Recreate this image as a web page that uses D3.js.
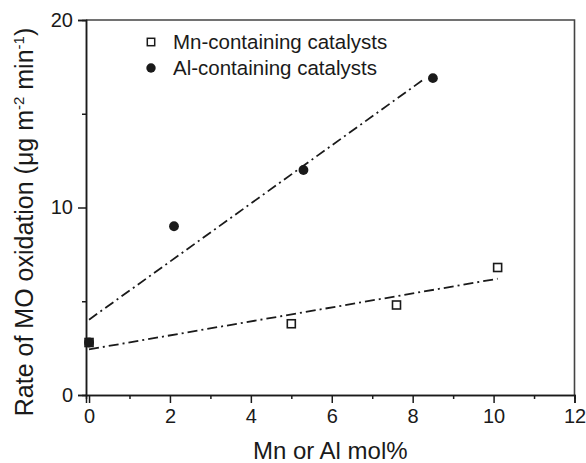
<!DOCTYPE html>
<html>
<head>
<meta charset="utf-8">
<script src="https://cdn.jsdelivr.net/npm/d3@7"></script>
<style>
  html, body { margin: 0; padding: 0; background: #fff; }
  svg { display: block; font-family: "Liberation Sans", Arial, sans-serif; }
</style>
</head>
<body>
<svg id="chart" width="586" height="463"></svg>
<script>
// Catalyst composition (mol%) and measured MO oxidation rate
const mnMol  = [0, 5.0, 7.6, 10.1];
const mnRate = [2.8, 3.8, 4.8, 6.8];
const alMol  = [0, 2.1, 5.3, 8.5];
const alRate = [2.8, 9.0, 12.0, 16.9];

// Extent of each linear fit along the x axis
const mnFitRange = [0, 10.1];
const alFitRange = [0, 8.3];

const xTicks = [0, 2, 4, 6, 8, 10, 12];
const xMinorTicks = [1, 3, 5, 7, 9, 11];
const yTicks = [0, 10, 20];
const yMinorTicks = [5, 15];

const legendLabels = ["Mn-containing catalysts", "Al-containing catalysts"];

const svg = d3.select("#chart");
const plotL = 86, plotR = 574.5, plotT = 20, plotB = 395;

const x = d3.scaleLinear().domain([-0.075, 12]).range([plotL, plotR]);
const y = d3.scaleLinear().domain([0, 20]).range([plotB, plotT]);

const ink = "#1a1a1a";

// least-squares line through a series
function fit(xs, ys) {
  const n = xs.length;
  const mx = d3.mean(xs), my = d3.mean(ys);
  let sxy = 0, sxx = 0;
  for (let i = 0; i < n; i++) {
    sxy += (xs[i] - mx) * (ys[i] - my);
    sxx += (xs[i] - mx) ** 2;
  }
  const slope = sxy / sxx;
  return { slope, intercept: my - slope * mx };
}

// frame (top and right edges)
svg.append("path")
  .attr("d", `M${plotL},${plotT}H${plotR}V${plotB}`)
  .attr("fill", "none").attr("stroke", "#444").attr("stroke-width", 1.6);

// x axis
svg.append("g").attr("transform", `translate(0,${plotB})`)
  .call(d3.axisBottom(x).tickValues(xTicks).tickSize(8).tickPadding(6).tickFormat(d3.format("d")));
svg.append("g").attr("transform", `translate(0,${plotB})`)
  .call(d3.axisBottom(x).tickValues(xMinorTicks).tickSize(4).tickFormat(""));

// y axis
svg.append("g").attr("transform", `translate(${plotL},0)`)
  .call(d3.axisLeft(y).tickValues(yTicks).tickSize(8).tickPadding(5).tickFormat(d3.format("d")));
svg.append("g").attr("transform", `translate(${plotL},0)`)
  .call(d3.axisLeft(y).tickValues(yMinorTicks).tickSize(4).tickFormat(""));

svg.selectAll(".domain").attr("stroke", ink).attr("stroke-width", 1.5);
svg.selectAll(".tick line").attr("stroke", ink).attr("stroke-width", 1.5);
svg.selectAll(".tick text").attr("fill", ink).style("font-size", "20px")
  .style("font-family", "'Liberation Sans', Arial, sans-serif");

// fit lines
const dash = "10,4,2,4";
function drawFit(xs, ys, range) {
  const f = fit(xs, ys);
  const pts = range.map(v => [v, f.intercept + f.slope * v]);
  svg.append("path")
    .attr("d", d3.line().x(d => x(d[0])).y(d => y(d[1]))(pts))
    .attr("fill", "none").attr("stroke", ink)
    .attr("stroke-width", 1.8).attr("stroke-dasharray", dash);
}
drawFit(mnMol, mnRate, mnFitRange);
drawFit(alMol, alRate, alFitRange);

// Mn series: open squares
const sq = 8;
svg.append("g").selectAll("rect")
  .data(d3.zip(mnMol, mnRate)).join("rect")
  .attr("x", d => x(d[0]) - sq / 2).attr("y", d => y(d[1]) - sq / 2)
  .attr("width", sq).attr("height", sq)
  .attr("fill", "#fff").attr("stroke", ink).attr("stroke-width", 1.6);

// Al series: filled circles
svg.append("g").selectAll("circle")
  .data(d3.zip(alMol, alRate)).join("circle")
  .attr("cx", d => x(d[0])).attr("cy", d => y(d[1]))
  .attr("r", 4.9).attr("fill", ink);

// legend
const lg = svg.append("g");
lg.append("rect").attr("x", 151 - 3.7).attr("y", 42 - 3.7).attr("width", 7.4).attr("height", 7.4)
  .attr("fill", "#fff").attr("stroke", ink).attr("stroke-width", 1.5);
lg.append("circle").attr("cx", 151).attr("cy", 68).attr("r", 4.7).attr("fill", ink);
lg.selectAll("text").data(legendLabels).join("text")
  .attr("x", 173).attr("y", (d, i) => 49 + i * 26)
  .attr("fill", ink).style("font-size", "20.5px").text(d => d);

// axis titles
svg.append("text")
  .attr("x", (plotL + plotR) / 2).attr("y", 459)
  .attr("text-anchor", "middle").attr("fill", ink)
  .style("font-size", "24px").text("Mn or Al mol%");

const yt = svg.append("text")
  .attr("transform", "translate(33,222) rotate(-90)")
  .attr("text-anchor", "middle").attr("fill", ink)
  .style("font-size", "25px");
yt.append("tspan").text("Rate of MO oxidation (\u03bcg m");
yt.append("tspan").attr("dy", -9).style("font-size", "15px").text("-2");
yt.append("tspan").attr("dy", 9).text(" min");
yt.append("tspan").attr("dy", -9).style("font-size", "15px").text("-1");
yt.append("tspan").attr("dy", 9).text(")");
</script>
</body>
</html>
